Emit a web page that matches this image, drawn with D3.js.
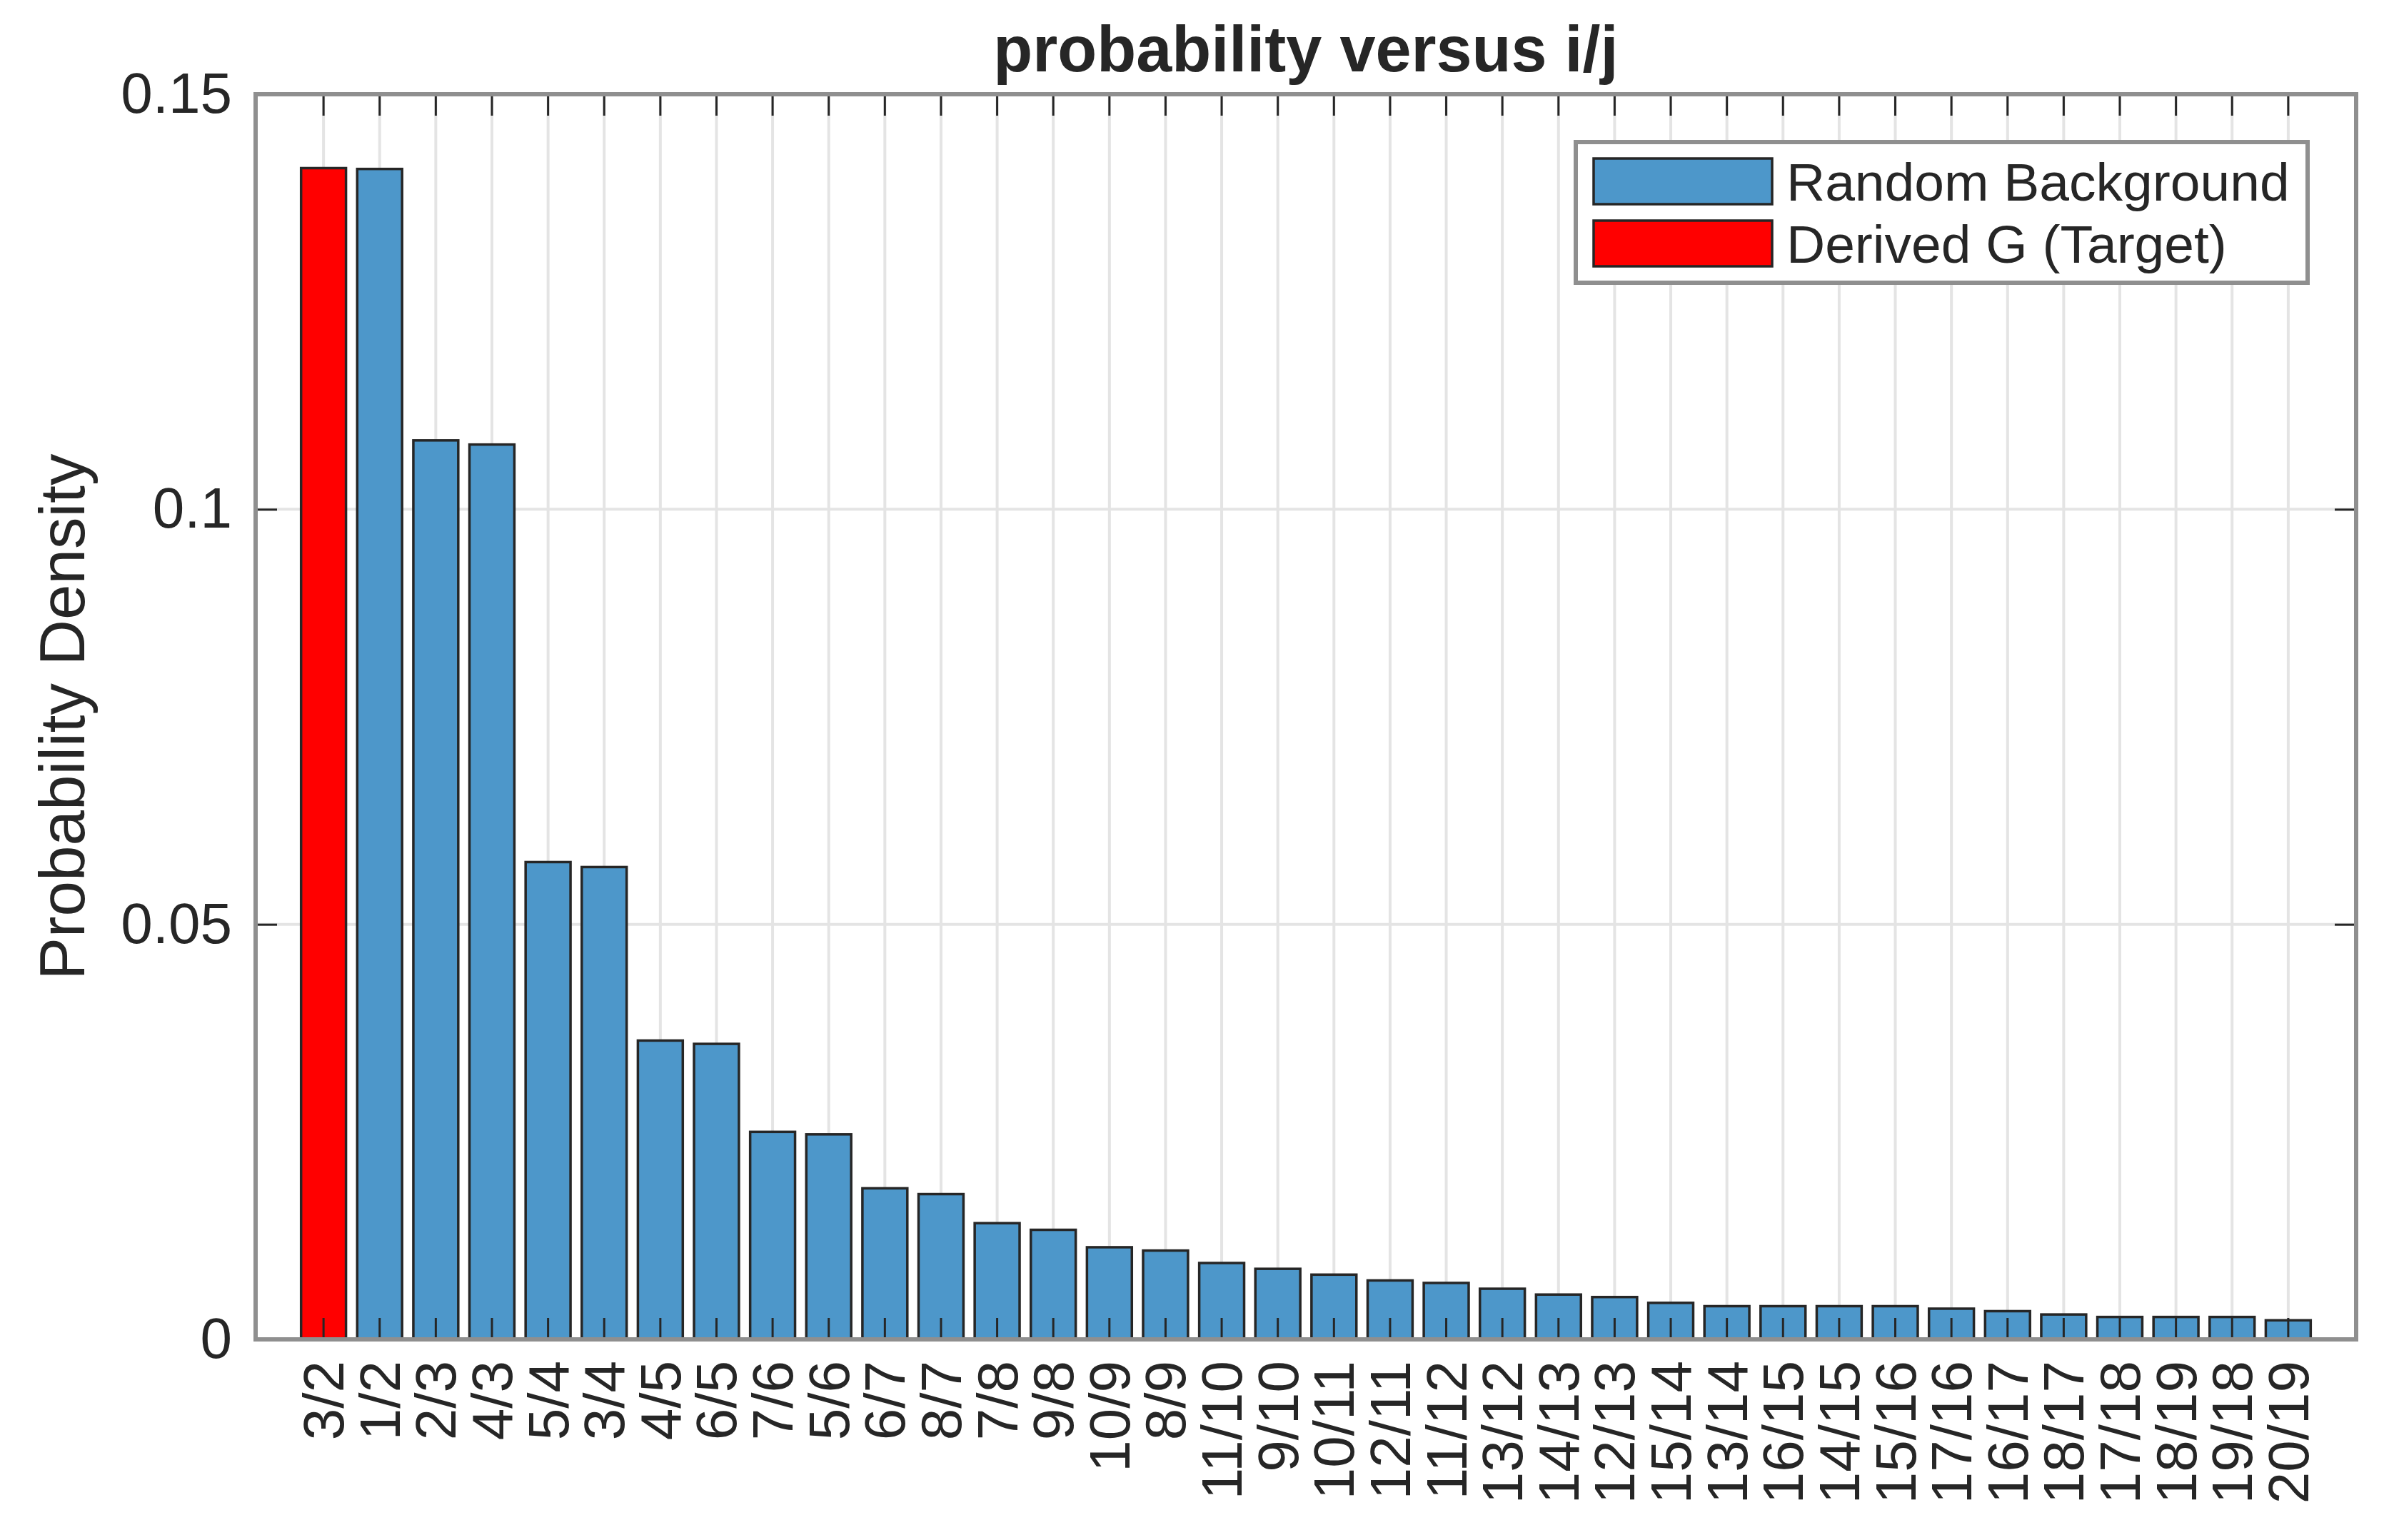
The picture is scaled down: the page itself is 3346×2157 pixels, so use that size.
<!DOCTYPE html>
<html>
<head>
<meta charset="utf-8">
<script src="https://cdn.jsdelivr.net/npm/d3@7"></script>
<style>
  body { margin: 0; background: #fff; }
  text { font-family: "Liberation Sans", Arial, sans-serif; fill: #262626; }
</style>
</head>
<body>
<div id="chart"></div>
<script>
// ratio labels along the x axis, in plotted order
var ratios = ["3/2", "1/2", "2/3", "4/3", "5/4", "3/4", "4/5", "6/5", "7/6", "5/6",
              "6/7", "8/7", "7/8", "9/8", "10/9", "8/9", "11/10", "9/10", "10/11", "12/11",
              "11/12", "13/12", "14/13", "12/13", "15/14", "13/14", "16/15", "14/15", "15/16", "17/16",
              "16/17", "18/17", "17/18", "18/19", "19/18", "20/19"];

// probability density of each ratio
var density = [0.1411, 0.1410, 0.1083, 0.1078, 0.0575, 0.0569, 0.0360, 0.0356, 0.0250, 0.0247,
               0.0182, 0.0175, 0.0140, 0.0132, 0.0111, 0.0107, 0.0092, 0.0085, 0.0078, 0.0071,
               0.0068, 0.0061, 0.0054, 0.0051, 0.0044, 0.0040, 0.0040, 0.0040, 0.0040, 0.0037,
               0.0034, 0.0030, 0.0027, 0.0027, 0.0027, 0.0023];

var targetRatio = "3/2";   // the derived G bar, drawn red
var seriesNames = ["Random Background", "Derived G (Target)"];
var yTicks = [0, 0.05, 0.1, 0.15];

(function() {
    "use strict";

    var W = 3346, H = 2157;
    // plot box (note: "top" is reserved on window, so keep these local)
    var pL = 358, pR = 3300, pT = 132, pB = 1876;
    var blue = "#4d97ca", red = "#ff0000";
    var ink = "#262626", boxGray = "#8f8f8f", gridGray = "#e4e4e4";

    var svg = d3.select("#chart").append("svg")
        .attr("width", W)
        .attr("height", H);

    svg.append("rect").attr("width", W).attr("height", H).attr("fill", "#fff");

    var x = d3.scaleBand()
        .domain(ratios)
        .range([pL, pR])
        .paddingInner(0.2)
        .paddingOuter(0.81);

    var y = d3.scaleLinear()
        .domain([0, 0.15])
        .range([pB, pT]);

    // grid lines
    svg.append("g").selectAll("line")
        .data(ratios)
        .enter().append("line")
        .attr("x1", function(d) { return x(d) + x.bandwidth() / 2; })
        .attr("x2", function(d) { return x(d) + x.bandwidth() / 2; })
        .attr("y1", pT).attr("y2", pB)
        .attr("stroke", gridGray).attr("stroke-width", 4);

    svg.append("g").selectAll("line")
        .data(yTicks)
        .enter().append("line")
        .attr("x1", pL).attr("x2", pR)
        .attr("y1", function(d) { return y(d); })
        .attr("y2", function(d) { return y(d); })
        .attr("stroke", gridGray).attr("stroke-width", 4);

    // bars
    svg.append("g").selectAll("rect")
        .data(ratios)
        .enter().append("rect")
        .attr("x", function(d) { return x(d); })
        .attr("y", function(d, i) { return y(density[i]); })
        .attr("width", x.bandwidth())
        .attr("height", function(d, i) { return pB - y(density[i]); })
        .attr("fill", function(d) { return d === targetRatio ? red : blue; })
        .attr("stroke", ink)
        .attr("stroke-width", 3.5);

    // axes, ticks point inward like the original
    var xAxis = svg.append("g")
        .attr("transform", "translate(0," + pB + ")")
        .call(d3.axisBottom(x).tickSize(-30).tickPadding(0));
    xAxis.selectAll("text")
        .attr("transform", "rotate(-90)")
        .attr("x", -30).attr("y", 0)
        .attr("dy", "0.35em")
        .attr("text-anchor", "end")
        .style("font-size", "80px");

    svg.append("g")
        .attr("transform", "translate(0," + pT + ")")
        .call(d3.axisTop(x).tickSize(-30).tickFormat(""));

    svg.append("g")
        .attr("transform", "translate(" + pL + ",0)")
        .call(d3.axisLeft(y).tickValues(yTicks).tickSize(-30).tickPadding(33)
            .tickFormat(function(d) { return d === 0 ? "0" : String(d); }))
        .selectAll("text")
        .style("font-size", "80px");

    svg.append("g")
        .attr("transform", "translate(" + pR + ",0)")
        .call(d3.axisRight(y).tickValues(yTicks).tickSize(-30).tickFormat(""));

    svg.selectAll(".domain").remove();
    svg.selectAll(".tick line").attr("stroke", ink).attr("stroke-width", 3);
    svg.selectAll(".tick text").attr("fill", ink);

    // axes box
    svg.append("rect")
        .attr("x", pL).attr("y", pT)
        .attr("width", pR - pL).attr("height", pB - pT)
        .attr("fill", "none")
        .attr("stroke", boxGray)
        .attr("stroke-width", 6);

    // title and y label
    svg.append("text")
        .attr("x", (pL + pR) / 2).attr("y", 100)
        .attr("text-anchor", "middle")
        .style("font-size", "90px").style("font-weight", "bold")
        .text("probability versus i/j");

    svg.append("text")
        .attr("transform", "translate(118," + ((pT + pB) / 2) + ") rotate(-90)")
        .attr("text-anchor", "middle")
        .style("font-size", "89px")
        .text("Probability Density");

    // legend
    var lg = svg.append("g").attr("transform", "translate(2207,199)");
    lg.append("rect")
        .attr("width", 1025).attr("height", 197)
        .attr("fill", "#fff")
        .attr("stroke", boxGray).attr("stroke-width", 6);

    var rows = lg.selectAll("g")
        .data(seriesNames)
        .enter().append("g")
        .attr("transform", function(d, i) { return "translate(25," + (55 + i * 87) + ")"; });
    rows.append("rect")
        .attr("x", 0).attr("y", -32)
        .attr("width", 250).attr("height", 64)
        .attr("fill", function(d, i) { return i === 0 ? blue : red; })
        .attr("stroke", ink).attr("stroke-width", 3.5);
    rows.append("text")
        .attr("x", 270).attr("y", 27)
        .style("font-size", "75px")
        .text(function(d) { return d; });
})();
</script>
</body>
</html>
